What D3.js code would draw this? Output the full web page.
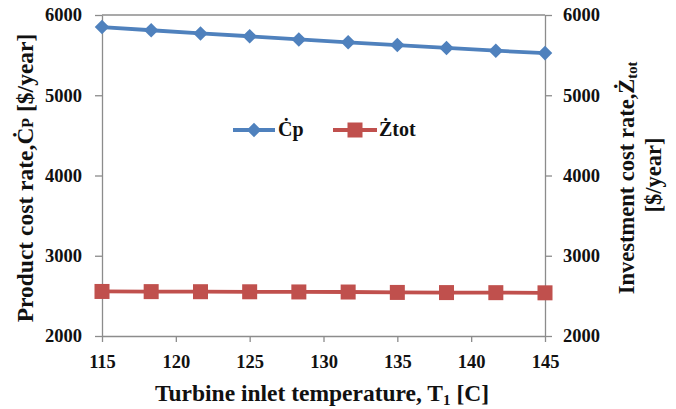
<!DOCTYPE html>
<html>
<head>
<meta charset="utf-8">
<script src="https://cdn.jsdelivr.net/npm/d3@7"></script>
<style>
  body { margin: 0; background: #fff; }
  text { font-family: "Liberation Serif", "Times New Roman", serif; font-weight: bold; fill: #111; }
</style>
</head>
<body>
<svg id="chart" width="676" height="409"></svg>
<script>
// data
const temps = [115, 118.33, 121.67, 125, 128.33, 131.67, 135, 138.33, 141.67, 145];
const cpValues = [5850, 5810, 5770, 5735, 5695, 5660, 5625, 5590, 5555, 5525];
const ztotValues = [2555, 2553, 2552, 2551, 2549, 2548, 2543, 2541, 2540, 2538];
const xTicks = [115, 120, 125, 130, 135, 140, 145];
const yTicks = [2000, 3000, 4000, 5000, 6000];

// configs
const BLUE = '#4f81bd';
const RED = '#c0504d';
const AXIS_GREY = '#8c8c8c';
const TICK_FONT = 18.5;
const margin = { left: 102, right: 131, top: 15, bottom: 73 };
const W = 676, H = 409;

const svg = d3.select('#chart');

const x = d3.scaleLinear().domain([115, 145]).range([margin.left, W - margin.right]);
const yL = d3.scaleLinear().domain([2000, 6000]).range([H - margin.bottom, margin.top]);
const yR = d3.scaleLinear().domain([2000, 6000]).range([H - margin.bottom, margin.top]);

// axes
function styleAxis(g) {
	g.attr('font-family', null).attr('font-size', null);
	g.select('.domain').attr('stroke', AXIS_GREY).attr('stroke-width', 1.3);
	g.selectAll('.tick line').attr('stroke', AXIS_GREY).attr('stroke-width', 1.3);
	g.selectAll('.tick text').attr('font-size', TICK_FONT).attr('fill', '#111');
}

svg.append('g')
	.attr('transform', `translate(0,${H - margin.bottom})`)
	.call(d3.axisBottom(x).tickValues(xTicks).tickFormat(d3.format('d'))
		.tickSize(6).tickSizeOuter(0).tickPadding(13))
	.call(styleAxis);

svg.append('g')
	.attr('transform', `translate(${margin.left},0)`)
	.call(d3.axisLeft(yL).tickValues(yTicks).tickFormat(d3.format('d'))
		.tickSize(7).tickSizeOuter(0).tickPadding(13))
	.call(styleAxis);

svg.append('g')
	.attr('transform', `translate(${W - margin.right},0)`)
	.call(d3.axisRight(yR).tickValues(yTicks).tickFormat(d3.format('d'))
		.tickSize(7).tickSizeOuter(0).tickPadding(11))
	.call(styleAxis);

// top gridline at 6000
svg.append('line')
	.attr('x1', x(115)).attr('x2', x(145))
	.attr('y1', yL(6000)).attr('y2', yL(6000))
	.attr('stroke', AXIS_GREY).attr('stroke-width', 1.3);

// series
const lineCp = d3.line().x((d, i) => x(temps[i])).y(d => yL(d));
const lineZ = d3.line().x((d, i) => x(temps[i])).y(d => yR(d));

svg.append('path').datum(cpValues)
	.attr('d', lineCp).attr('fill', 'none')
	.attr('stroke', BLUE).attr('stroke-width', 3.8);

svg.append('path').datum(ztotValues)
	.attr('d', lineZ).attr('fill', 'none')
	.attr('stroke', RED).attr('stroke-width', 3.8);

const diamond = d3.symbol().type(d3.symbolDiamond2).size(135);

svg.append('g').selectAll('path')
	.data(cpValues).join('path')
	.attr('d', diamond)
	.attr('transform', (d, i) => `translate(${x(temps[i])},${yL(d)})`)
	.attr('fill', BLUE);

svg.append('g').selectAll('rect')
	.data(ztotValues).join('rect')
	.attr('x', (d, i) => x(temps[i]) - 7.5)
	.attr('y', d => yR(d) - 7.5)
	.attr('width', 15).attr('height', 15)
	.attr('fill', RED);

// legend
const legY = 130;
const leg = svg.append('g');
leg.append('line').attr('x1', 233).attr('x2', 275).attr('y1', legY).attr('y2', legY)
	.attr('stroke', BLUE).attr('stroke-width', 3.8);
leg.append('path').attr('d', diamond)
	.attr('transform', `translate(254,${legY})`).attr('fill', BLUE);
leg.append('text').attr('x', 278).attr('y', legY + 5.5).attr('font-size', 20).text('Ċp');

leg.append('line').attr('x1', 333).attr('x2', 377).attr('y1', legY).attr('y2', legY)
	.attr('stroke', RED).attr('stroke-width', 3.8);
leg.append('rect').attr('x', 347.5).attr('y', legY - 7.5).attr('width', 15).attr('height', 15)
	.attr('fill', RED);
leg.append('text').attr('x', 379).attr('y', legY + 5.5).attr('font-size', 20).text('Żtot');

// axis titles
svg.append('text')
	.attr('x', 322).attr('y', 401)
	.attr('text-anchor', 'middle').attr('font-size', 23.5)
	.call(t => {
		t.append('tspan').text('Turbine inlet temperature, T');
		t.append('tspan').attr('font-size', 15).attr('dy', 4).text('1');
		t.append('tspan').attr('dy', -4).text(' [C]');
	});

svg.append('text')
	.attr('transform', 'translate(33,178) rotate(-90)')
	.attr('text-anchor', 'middle').attr('font-size', 23.5)
	.call(t => {
		t.append('tspan').text('Product cost rate,Ċ');
		t.append('tspan').attr('font-size', 16).text('P');
		t.append('tspan').text(' [$/year]');
	});

svg.append('text')
	.attr('transform', 'translate(634,178) rotate(-90)')
	.attr('text-anchor', 'middle').attr('font-size', 22.5)
	.call(t => {
		t.append('tspan').text('Investment cost rate,Ż');
		t.append('tspan').attr('font-size', 14.5).attr('dy', 3).text('tot');
	});

svg.append('text')
	.attr('transform', 'translate(661,175) rotate(-90)')
	.attr('text-anchor', 'middle').attr('font-size', 22.5)
	.text('[$/year]');
</script>
</body>
</html>
